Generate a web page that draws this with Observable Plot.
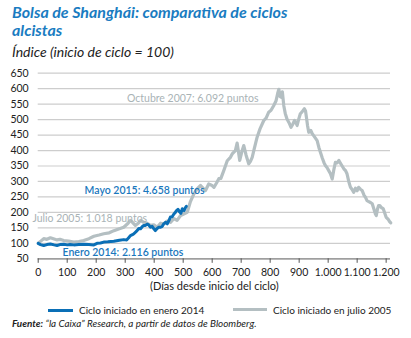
<!DOCTYPE html>
<html>
<head>
<meta charset="utf-8">
<script src="https://cdn.jsdelivr.net/npm/d3@7"></script>
<script src="https://cdn.jsdelivr.net/npm/@observablehq/plot@0.6"></script>
<style>
  body { margin: 0; background: #fff; font-family: Lato, "Open Sans", sans-serif; }
  #wrap { position: relative; width: 411px; height: 338px; overflow: hidden; }
  #wrap svg { position: absolute; left: 0; top: 0; }
  .abs { position: absolute; white-space: nowrap; }
  #title { left: 12px; top: 2.9px; font-size: 16px; line-height: 18.4px; font-weight: bold; font-style: italic; color: #1a7cc1; }
  #subtitle { left: 12px; top: 44.2px; font-size: 14px; line-height: 16.8px; font-style: italic; color: #222; }
  .leg { font-size: 10px; line-height: 12px; color: #222; }
  .sw { position: absolute; height: 3px; }
  #source { left: 12px; top: 317.5px; font-size: 9.9px; line-height: 11.9px; font-style: italic; color: #222; }
</style>
</head>
<body>
<div id="wrap">
  <div id="title" class="abs">Bolsa de Shanghái: comparativa de ciclos<br>alcistas</div>
  <div id="subtitle" class="abs">Índice (inicio de ciclo = 100)</div>
  <div class="sw" style="left:48px; top:308.5px; width:25px; background:#0a6fb6;"></div>
  <div class="abs leg" style="left:79px; top:303.5px;">Ciclo iniciado en enero 2014</div>
  <div class="sw" style="left:233px; top:307.5px; width:34px; background:#b4bfc2;"></div>
  <div class="abs leg" style="left:273px; top:303.5px;">Ciclo iniciado en julio 2005</div>
  <div id="source" class="abs"><b>Fuente:</b> “la Caixa” Research, a partir de datos de Bloomberg.</div>
</div>
<script>
// Cycle started July 2005 (grey)
const days2005 = [0,10,19,30,42,55,65,75,88,105,123,140,157,175,192,210,226,245,261,280,295,310,318,325,335,345,353,364,376,387,399,410,422,433,445,456,468,479,491,502,514,525,537,548,560,571,577,588,598,606,615,623,630,640,652,663,669,680,686,690,695,702,709,717,726,732,738,745,755,765,778,786,795,803,812,820,826,830,834,838,842,847,852,858,865,872,878,884,889,893,898,904,910,918,922,925,929,933,940,945,950,956,962,968,973,980,986,991,996,1002,1008,1014,1020,1025,1031,1037,1045,1054,1060,1065,1071,1077,1082,1088,1094,1100,1105,1111,1117,1124,1128,1134,1140,1146,1152,1158,1163,1166,1170,1174,1178,1184,1190,1195,1200,1207,1212,1216];
const values2005 = [100,108,115,113,118,114,111,113,109,107,104,106,109,115,123,127,131,134,141,147,152,165,174,168,158,165,174,168,165,158,160,152,165,163,172,168,180,174,190,195,200,235,260,276,287,276,271,292,288,281,295,309,310,335,367,378,389,400,424,400,368,395,416,385,357,365,378,405,443,470,497,505,524,530,545,560,585,598,575,572,590,545,520,502,490,475,485,497,490,481,500,519,525,535,528,508,480,459,465,455,448,440,432,410,395,375,360,351,345,335,325,308,340,362,360,368,355,341,335,325,300,281,275,265,278,270,281,275,271,255,250,238,235,232,228,210,195,190,210,222,222,215,212,198,184,178,170,166];

// Cycle started January 2014 (blue)
const days2014 = [0,8,19,30,42,55,65,75,88,100,110,123,140,157,175,192,203,215,226,240,261,280,295,305,312,318,325,330,341,347,353,360,364,370,376,381,387,393,399,404,410,416,422,428,433,440,445,450,456,462,468,473,477,482,488,492,497,503,507,511];
const values2014 = [100,96,93,96,98,95,93,96,97,95,96,95,96,97,96,95,100,101,104,105,107,110,112,111,118,125,128,131,141,148,147,155,158,158,162,160,152,155,147,141,148,152,152,155,163,168,163,172,185,186,195,200,206,210,201,197,212,206,214,220];

const yTicks = [50,100,150,200,250,300,350,400,450,500,550,600,650];
const xTicks = [0,100,200,300,400,500,600,700,800,900,1000,1100,1200];
const xTitle = "(Días desde inicio del ciclo)";

const annoLabels = ["Octubre 2007: 6.092 puntos", "Mayo 2015: 4.658 puntos", "Julio 2005: 1.018 puntos", "Enero 2014: 2.116 puntos"];
const annoSeries = ["2005", "2014", "2005", "2014"];
const annoDays = [760, 160, -20, 84];
const annoValues = [567, 271, 179, 71];
const annoAnchor = ["end", "start", "start", "start"];

const grey = "#b4bfc2";
const blue = "#0a6fb6";

const s2005 = days2005.map((d, i) => ({day: d, v: values2005[i]}));
const s2014 = days2014.map((d, i) => ({day: d, v: values2014[i]}));
const anno = annoLabels.map((t, i) => ({text: t, s: annoSeries[i], day: annoDays[i], v: annoValues[i], anchor: annoAnchor[i]}));

const fmtX = d => d >= 1000 ? d3.format(",")(d).replace(",", ".") : String(d);

const annoMarks = [];
for (const s of ["2005", "2014"]) {
  for (const a of ["start", "end"]) {
    const sub = anno.filter(d => d.s === s && d.anchor === a);
    if (!sub.length) continue;
    annoMarks.push(Plot.text(sub, {
      x: "day", y: "v", text: "text", textAnchor: a,
      fill: s === "2005" ? "#a9b3b6" : "#1a77bd",
      fontSize: 10.5,
      fontWeight: s === "2005" ? "normal" : 600
    }));
  }
}

const chart = Plot.plot({
  width: 411,
  height: 338,
  marginTop: 72.7,
  marginBottom: 79.7,
  marginLeft: 37.7,
  marginRight: 21,
  x: {domain: [0, 1215]},
  y: {domain: [50, 650]},
  style: {fontFamily: "Lato, 'Open Sans', sans-serif", fontSize: "10px", color: "#222", background: "transparent", overflow: "visible"},
  marks: [
    Plot.gridY(yTicks, {stroke: "#cdcdcd", strokeOpacity: 1, strokeWidth: 1.2}),
    Plot.axisY(yTicks, {tickSize: 0, tickPadding: 9.5, label: null, fontSize: 10.5}),
    Plot.ruleY([50], {stroke: "#8a8a8a", strokeWidth: 1.2}),
    Plot.axisX(xTicks, {tickSize: 4.5, tickPadding: 5, tickFormat: fmtX, label: null, fontSize: 10.5, stroke: "#555"}),
    Plot.text([xTitle], {frameAnchor: "bottom", dy: 31.5, text: d => d, fontSize: 11, fill: "#222"}),
    Plot.lineY(s2005, {x: "day", y: "v", stroke: grey, strokeWidth: 3.2, strokeLinejoin: "round"}),
    Plot.lineY(s2014, {x: "day", y: "v", stroke: blue, strokeWidth: 3, strokeLinejoin: "round"}),
    ...annoMarks
  ]
});
document.getElementById("wrap").prepend(chart);
</script>
</body>
</html>
